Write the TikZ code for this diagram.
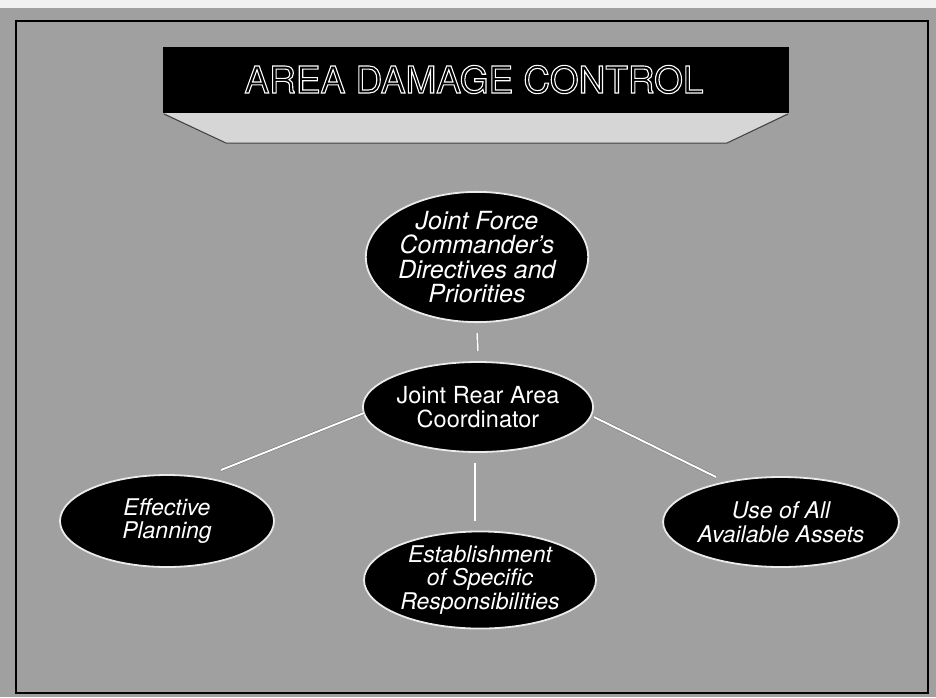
\documentclass[tikz,border=0pt]{standalone}
\usepackage{fontspec}
\setmainfont{TeX Gyre Heros}
\usetikzlibrary{shapes.geometric,calc}
\definecolor{bggray}{RGB}{160,160,160}
\definecolor{trapgray}{RGB}{214,214,214}
\definecolor{halo}{RGB}{235,235,235}
\newcommand{\outlinetext}[1]{\special{pdf:code q 1 Tr 1.1 w}#1\special{pdf:code Q}}
\tikzset{
  oval/.style={ellipse, fill=black, draw=halo, line width=1.8pt, inner sep=0pt,
    text=white, align=center},
  ovalit/.style={oval, font=\fontsize{23}{23.5}\selectfont\itshape},
  link/.style={draw=black!55, line width=0.5pt, double=white, double distance=1.9pt},
}
\begin{document}
\begin{tikzpicture}[x=1pt,y=-1pt]
\useasboundingbox (0,0) rectangle (936,697);
\fill[bggray] (0,0) rectangle (936,697);
\fill[white!85!bggray] (0,0) rectangle (936,8);
\draw[black, line width=1.5pt] (16,21) rectangle (928,693);
% title banner
\fill[trapgray] (164,113) -- (788,113) -- (727,143) -- (226,143) -- cycle;
\draw[black!75, line width=1pt] (164,114) -- (226,143) -- (727,143) -- (788,114);
\node[fill=black, minimum width=626pt, minimum height=66pt, inner sep=0pt] (banner) at (476,80) {};
\node[text=white, font=\fontsize{37}{37}\selectfont, anchor=base] (title) at (474,93) {\outlinetext{AREA DAMAGE CONTROL}};
% ovals
\node[oval, font=\fontsize{25}{24.5}\selectfont\itshape, minimum width=218pt, minimum height=118pt] (jfc) at (477,257)
  {Joint Force\\Commander's\\Directives and\\Priorities};
\node[oval, font=\fontsize{23.5}{23.5}\selectfont, minimum width=214pt, minimum height=90pt] (jrac) at (478,407)
  {Joint Rear Area\\Coordinator};
\node[ovalit, minimum width=214pt, minimum height=92pt] (plan) at (167,521)
  {Effective\\Planning};
\node[ovalit, minimum width=232pt, minimum height=90pt] (resp) at (480,580)
  {Establishment\\of Specific\\Responsibilities};
\node[ovalit, minimum width=212pt, minimum height=90pt] (assets) at (781,522)
  {Use of All\\Available Assets};
% connectors
\draw[link, shorten <=10pt, shorten >=10pt] (jfc.south) -- (jrac.north);
\draw[link] ($(jrac.south)+(-3,10)$) -- ($(resp.north)+(-5,-10)$);
\draw[link] ($(jrac.center)+(-114,6)$) -- ($(plan.center)+(54,-51)$);
\draw[link] ($(jrac.center)+(116,10)$) -- ($(assets.center)+(-65,-45)$);
\end{tikzpicture}
\end{document}
